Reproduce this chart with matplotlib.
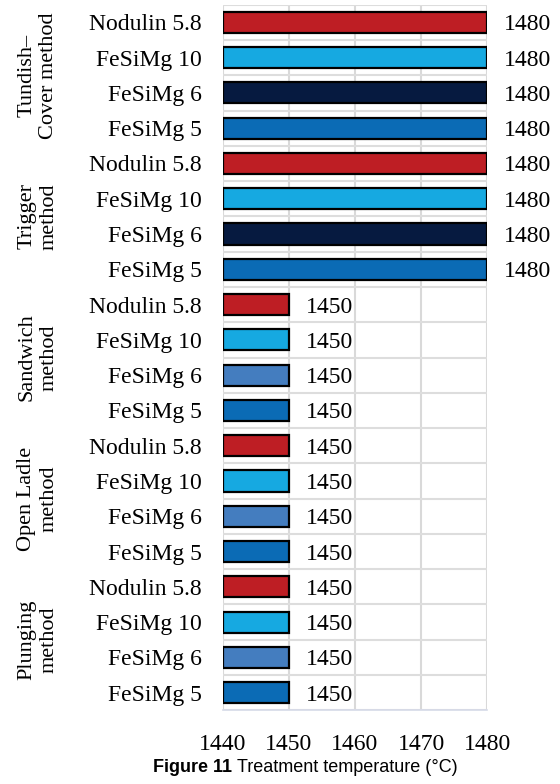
import numpy as np
import matplotlib.pyplot as plt

plt.rcParams['font.family'] = ['Liberation Serif', 'DejaVu Serif']

# groups listed bottom to top, products within a group bottom to top
methods = ['Plunging\nmethod', 'Open Ladle\nmethod', 'Sandwich\nmethod',
           'Trigger\nmethod', 'Tundish\u2013\nCover method']
products = ['FeSiMg 5', 'FeSiMg 6', 'FeSiMg 10', 'Nodulin 5.8']
temps = [
    [1450, 1450, 1450, 1450],
    [1450, 1450, 1450, 1450],
    [1450, 1450, 1450, 1450],
    [1480, 1480, 1480, 1480],
    [1480, 1480, 1480, 1480],
]
xticks = [1440, 1450, 1460, 1470, 1480]

base = 1440
red = '#BE1E24'
cyan = '#16A9E1'
blue = '#0B6BB5'
steel = '#447DBF'
navy = '#061A40'

fig = plt.figure(figsize=(5.6, 7.84), dpi=100)
ax = fig.add_axes([0.398, 0.094, 0.472, 0.9])

labels = []
vals = []
colors = []
for g, m in enumerate(methods):
    mid = navy if g >= 3 else steel
    for p, prod in enumerate(products):
        labels.append(prod)
        vals.append(temps[g][p])
        colors.append([blue, mid, cyan, red][p])

y = np.arange(len(vals))
vals = np.array(vals)
ax.barh(y, vals - base, left=base, height=0.6, color=colors,
        edgecolor='black', linewidth=1.6, zorder=3)

for yi, v in zip(y, vals):
    ax.annotate(str(v), (v, yi), xytext=(12, 0), textcoords='offset points',
                va='center_baseline', ha='left', fontsize=17)

ax.set_xlim(base, 1480)
ax.set_ylim(-0.5, len(vals) - 0.5)
ax.set_yticks(y)
ax.set_yticklabels(labels, fontsize=17, va='center_baseline')
ax.set_xticks(xticks)
ax.set_xticklabels([str(t) for t in xticks], fontsize=17)
ax.tick_params(axis='y', length=0, pad=15)
ax.tick_params(axis='x', length=0, pad=17)

# grid: verticals at ticks, horizontals between bars
for t in xticks:
    ax.axvline(t, color='#D9D9D9', lw=1.5, zorder=1)
for b in np.arange(-0.5, len(vals), 1.0):
    ax.axhline(b, color='#DDDDDD', lw=1.5, zorder=1)

for s in ['top', 'left', 'right']:
    ax.spines[s].set_visible(False)
ax.spines['bottom'].set_color('#D6DAE8')
ax.spines['bottom'].set_linewidth(1.2)

# method names, rotated, centred on each group of four bars
trans = ax.get_yaxis_transform()
for g, m in enumerate(methods):
    ax.text(-0.7, g * 4 + 1.5, m, transform=trans, rotation=90,
            ha='center', va='center', fontsize=16, linespacing=1.2,
            multialignment='center')

# caption: bold label followed by plain text
sans = ['Liberation Sans', 'DejaVu Sans']
cap1 = fig.text(0.273, 0.021, 'Figure 11', fontsize=13, fontweight='bold',
                family=sans, ha='left', va='center')
fig.canvas.draw()
bb = cap1.get_window_extent()
x2 = (bb.x1 + 5) / fig.bbox.width
fig.text(x2, 0.021, 'Treatment temperature (\u00b0C)', fontsize=13,
         family=sans, ha='left', va='center')

fig.savefig('out.png', dpi=100)
